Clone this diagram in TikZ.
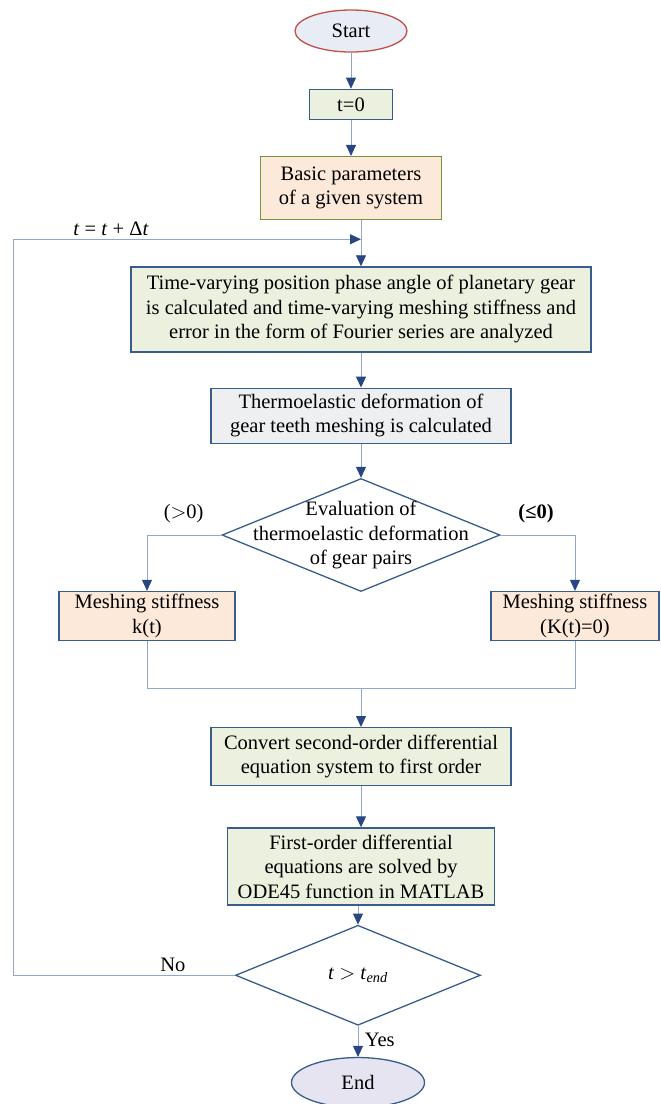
\documentclass[tikz,border=0pt]{standalone}
\usepackage{fontspec}
\setmainfont{Liberation Serif}
\usetikzlibrary{positioning,shapes.geometric,arrows.meta}

\definecolor{boxblue}{RGB}{56,93,138}
\definecolor{lineblue}{RGB}{143,168,207}
\definecolor{tipblue}{RGB}{40,70,130}
\definecolor{greenfill}{RGB}{235,241,222}
\definecolor{peachfill}{RGB}{253,233,217}
\definecolor{grayfill}{RGB}{238,239,241}
\definecolor{startfill}{RGB}{232,237,245}
\definecolor{endfill}{RGB}{230,228,240}
\definecolor{startred}{RGB}{192,80,77}
\definecolor{olivegreen}{RGB}{119,147,60}

\begin{document}
\begin{tikzpicture}[
x=1pt, y=-1pt,
font=\fontsize{20.5}{24.5}\selectfont,
process/.style={rectangle, draw=boxblue, line width=1.3pt, align=center, inner sep=2pt},
greenbox/.style={process, fill=greenfill},
peachbox/.style={process, fill=peachfill},
decision/.style={diamond, draw=boxblue, line width=1.3pt, fill=white, inner sep=0pt},
terminal/.style={ellipse, line width=1.3pt, inner sep=0pt},
line/.style={draw=lineblue, line width=0.9pt},
arrow/.style={line, -{Triangle[length=11pt, width=10pt, color=tipblue]}}]

\useasboundingbox (0,0) rectangle (661,1104);

% main chain
\node[terminal, draw=startred, fill=startfill, minimum width=112pt, minimum height=42pt] (start) at (351,31) {Start};
\node[greenbox, minimum width=83pt, minimum height=30pt] (t0) [below = 36pt of start] {t=0};
\node[peachbox, draw=olivegreen, minimum width=181pt, minimum height=63pt] (basic) [below = 36pt of t0] {Basic parameters\\of a given system};
\node[greenbox, minimum width=460pt, minimum height=85pt] (phase) [below = 46pt of basic, xshift=10pt] {Time-varying position phase angle of planetary gear\\is calculated and time-varying meshing stiffness and\\error in the form of Fourier series are analyzed};
\node[process, fill=grayfill, minimum width=300pt, minimum height=55pt] (thermo) [below = 35pt of phase] {Thermoelastic deformation of\\gear teeth meshing is calculated};
\node[decision, minimum width=278pt, minimum height=113pt,
  label={[align=center]center:Evaluation of\\thermoelastic deformation\\of gear pairs}] (eval) [below = 34pt of thermo] {};

% branches
\node[peachbox, minimum width=176pt, minimum height=49pt] (kbox) at (147,616) {Meshing stiffness\\k(t)};
\node[peachbox, minimum width=168pt, minimum height=49pt] (zbox) at (575,616) {Meshing stiffness\\(K(t)=0)};
\coordinate (merge) at (eval |- 0,688);

\node[greenbox, minimum width=300pt, minimum height=58pt] (conv) [below = 39pt of merge] {Convert second-order differential\\equation system to first order};
\node[greenbox, minimum width=267pt, minimum height=77pt] (ode) [below = 41pt of conv] {First-order differential\\equations are solved by\\ODE45 function in MATLAB};
\node[decision, minimum width=245pt, minimum height=100pt,
  label={center:\textit{t} \(>\) \textit{t}\textsubscript{\textit{end}}}] (check) [below = 19pt of ode, xshift=-3pt] {};
\node[terminal, draw=boxblue, fill=endfill, minimum width=133pt, minimum height=50pt] (end) [below = 31pt of check] {End};

\coordinate[above = 27pt of phase.north] (join);

\draw[arrow] (start) -- (t0);
\draw[arrow] (t0) -- (basic);
\draw[arrow] (basic.south -| join) -- (phase.north);
\draw[arrow] (phase) -- (thermo);
\draw[arrow] (thermo) -- (eval);

\draw[arrow] (eval.west) node[above left = 8pt and 14pt] {(\(>\)0)} -| (kbox.north);
\draw[arrow] (eval.east) node[above right = 8pt and 14pt] {\textbf{(≤0)}} -| (zbox.north);
\draw[line] (kbox.south) |- (merge) -| (zbox.south);
\draw[arrow] (merge) -- (conv);
\draw[arrow] (conv) -- (ode);
\draw[arrow] (ode.south -| check.north) -- (check.north);
\draw[arrow] (check) -- node[right = 3pt, pos=0.45] {Yes} (end);

% loop back
\draw[arrow] (check.west) -- node[above, pos=0.28] {No} ++(-221,0) |- node[above, pos=0.64] {\textit{t} = \textit{t} + Δ\textit{t}} (join);
\end{tikzpicture}
\end{document}
